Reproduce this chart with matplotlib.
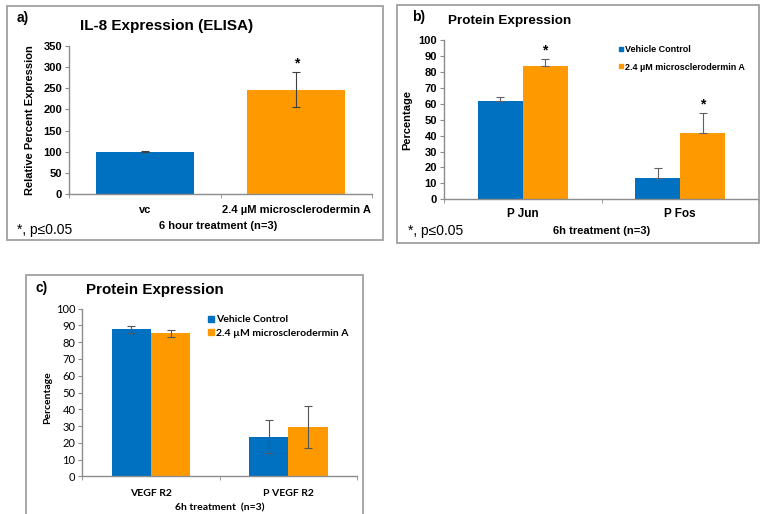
import matplotlib
matplotlib.use("Agg")
import matplotlib.pyplot as plt
from matplotlib.patches import Rectangle
from matplotlib.lines import Line2D
import numpy as np

# ---------------- data ----------------
a_categories = ['vc', '2.4 µM microsclerodermin A']
a_values = [100, 247]
a_errors = [1, 42]

series_labels = ['Vehicle Control', '2.4 µM microsclerodermin A']

b_categories = ['P Jun', 'P Fos']
b_vehicle = [61.7, 13.2]
b_vehicle_err = [2.3, 6.3]
b_treated = [83.7, 41.4]
b_treated_err = [4.2, 13.0]

c_categories = ['VEGF R2', 'P VEGF R2']
c_vehicle = [87.7, 23.6]
c_vehicle_err = [2.1, 9.8]
c_treated = [85.3, 29.2]
c_treated_err = [2.1, 12.6]

BLUE = '#0070C0'
ORANGE = '#FF9900'
AXC = '#8c8c8c'
W, H = 760, 514

ARIAL = 'Liberation Sans'
CALIBRI = 'Lato'

fig = plt.figure(figsize=(W / 100, H / 100), dpi=100)


def fx(x):
    return x / W


def fy(y):
    return 1 - y / H


def add_ax(x0, y0, x1, y1):
    return fig.add_axes([fx(x0), fy(y1), (x1 - x0) / W, (y1 - y0) / H])


def box(x0, y0, x1, y1):
    fig.patches.append(Rectangle((fx(x0), fy(y1)), (x1 - x0) / W, (y1 - y0) / H,
                                 transform=fig.transFigure, fill=False,
                                 edgecolor='#a0a0a0', linewidth=1.3))


def ftext(x, y, s, **kw):
    fig.text(fx(x), fy(y), s, **kw)


def style_ax(ax, n, ymax, ystep, tickfont, tickweight, ticksize, xpad):
    for s in ['top', 'right']:
        ax.spines[s].set_visible(False)
    for s in ['left', 'bottom']:
        ax.spines[s].set_color(AXC)
        ax.spines[s].set_linewidth(1.0)
    ax.set_xlim(0, n)
    ax.set_ylim(0, ymax)
    ax.set_yticks(np.arange(0, ymax + 0.1, ystep))
    ax.set_xticks(np.arange(n) + 0.5)
    ax.set_xticks(np.arange(n + 1), minor=True)
    ax.tick_params(axis='x', which='major', length=0, pad=xpad)
    ax.tick_params(axis='x', which='minor', length=3, color=AXC, direction='out')
    ax.tick_params(axis='y', length=3, color=AXC, direction='out', pad=2)
    for lab in ax.get_yticklabels():
        lab.set_fontfamily(tickfont)
        lab.set_fontweight(tickweight)
        lab.set_fontsize(ticksize)
    ax.patch.set_alpha(0)


# ================= panel a =================
box(7, 6, 383, 240)
axa = add_ax(69, 46, 372, 194)
xa = np.arange(len(a_categories)) + 0.5
axa.bar(xa, a_values, width=0.65, color=[BLUE, ORANGE], zorder=2,
        yerr=a_errors, error_kw=dict(ecolor='#404040', elinewidth=0.8, capsize=3, capthick=0.8))
style_ax(axa, 2, 350, 50, ARIAL, 'bold', 8, 8)
axa.set_xticklabels(a_categories, fontfamily=ARIAL, fontweight='bold', fontsize=8)
axa.annotate('*', (xa[1], a_values[1] + a_errors[1]), xytext=(0, 1), textcoords='offset points',
             ha='center', va='bottom', fontfamily=ARIAL, fontweight='bold', fontsize=10)
ftext(17, 18, 'a)', fontfamily=ARIAL, fontweight='bold', fontsize=10, va='center')
ftext(80, 26, 'IL-8 Expression (ELISA)', fontfamily=ARIAL, fontweight='bold', fontsize=11, va='center')
ftext(30, 120, 'Relative Percent Expression', fontfamily=ARIAL, fontweight='bold', fontsize=8,
      rotation=90, ha='center', va='center')
ftext(218, 226, '6 hour treatment (n=3)', fontfamily=ARIAL, fontweight='bold', fontsize=8,
      ha='center', va='center')
ftext(17, 230, '*, p≤0.05', fontfamily=ARIAL, fontsize=10, va='center')

# ================= panel b =================
box(397, 5, 759, 243)
axb = add_ax(444, 40, 759, 199.3)
xb = np.arange(len(b_categories)) + 0.5
bw = 0.285
axb.bar(xb - bw / 2, b_vehicle, width=bw, color=BLUE, zorder=2,
        yerr=[np.zeros(len(b_vehicle)), b_vehicle_err],
        error_kw=dict(ecolor='#606060', elinewidth=0.8, capsize=3, capthick=0.8))
axb.bar(xb + bw / 2, b_treated, width=bw, color=ORANGE, zorder=2,
        yerr=[np.zeros(len(b_treated)), b_treated_err],
        error_kw=dict(ecolor='#606060', elinewidth=0.8, capsize=3, capthick=0.8))
style_ax(axb, 2, 100, 10, ARIAL, 'bold', 8, 6.5)
axb.set_xticklabels(b_categories, fontfamily=ARIAL, fontweight='bold', fontsize=8.5)
for i in range(len(b_categories)):
    axb.annotate('*', (xb[i] + bw / 2, b_treated[i] + b_treated_err[i]), xytext=(0, 1),
                 textcoords='offset points', ha='center', va='bottom',
                 fontfamily=ARIAL, fontweight='bold', fontsize=10)
hb = [Line2D([], [], marker='s', linestyle='none', color=BLUE, markersize=3.5),
      Line2D([], [], marker='s', linestyle='none', color=ORANGE, markersize=3.5)]
axb.legend(hb, series_labels, loc='upper left', bbox_to_anchor=(0.535, 1.0),
           frameon=False, handlelength=0.6, handletextpad=0.2, labelspacing=0.9,
           prop=dict(family=ARIAL, weight='bold', size=6.5), borderaxespad=0.2)
ftext(412, 17, 'b)', fontfamily=ARIAL, fontweight='bold', fontsize=10, va='center')
ftext(448, 21, 'Protein Expression', fontfamily=ARIAL, fontweight='bold', fontsize=9.7, va='center')
ftext(407, 120, 'Percentage', fontfamily=ARIAL, fontweight='bold', fontsize=8,
      rotation=90, ha='center', va='center')
ftext(602, 231, '6h treatment (n=3)', fontfamily=ARIAL, fontweight='bold', fontsize=8,
      ha='center', va='center')
ftext(408, 231, '*, p≤0.05', fontfamily=ARIAL, fontsize=10, va='center')

# ================= panel c =================
box(26, 275, 363, 540)
axc = add_ax(82.3, 308.7, 357, 476.3)
xc = np.arange(len(c_categories)) + 0.5
cw = 0.286
axc.bar(xc - cw / 2, c_vehicle, width=cw, color=BLUE, zorder=2,
        yerr=c_vehicle_err, error_kw=dict(ecolor='#555555', elinewidth=0.8, capsize=3, capthick=0.8))
axc.bar(xc + cw / 2, c_treated, width=cw, color=ORANGE, zorder=2,
        yerr=c_treated_err, error_kw=dict(ecolor='#555555', elinewidth=0.8, capsize=3, capthick=0.8))
style_ax(axc, 2, 100, 10, CALIBRI, 'normal', 8, 9.5)
axc.set_xticklabels(c_categories, fontfamily=CALIBRI, fontweight='bold', fontsize=7.5)
hc = [Line2D([], [], marker='s', linestyle='none', color=BLUE, markersize=4),
      Line2D([], [], marker='s', linestyle='none', color=ORANGE, markersize=4)]
axc.legend(hc, series_labels, loc='upper left', bbox_to_anchor=(0.435, 1.0),
           frameon=False, handlelength=0.6, handletextpad=0.2, labelspacing=0.4,
           prop=dict(family=CALIBRI, weight='bold', size=7.5), borderaxespad=0.2)
ftext(35, 288, 'c)', fontfamily=ARIAL, fontweight='bold', fontsize=10, va='center')
ftext(86, 290, 'Protein Expression', fontfamily=ARIAL, fontweight='bold', fontsize=10.9, va='center')
ftext(48, 398, 'Percentage', fontfamily=CALIBRI, fontweight='bold', fontsize=7.5,
      rotation=90, ha='center', va='center')
ftext(220, 508, '6h treatment  (n=3)', fontfamily=CALIBRI, fontweight='bold', fontsize=7.5,
      ha='center', va='center')

fig.savefig('out.png', dpi=100)
